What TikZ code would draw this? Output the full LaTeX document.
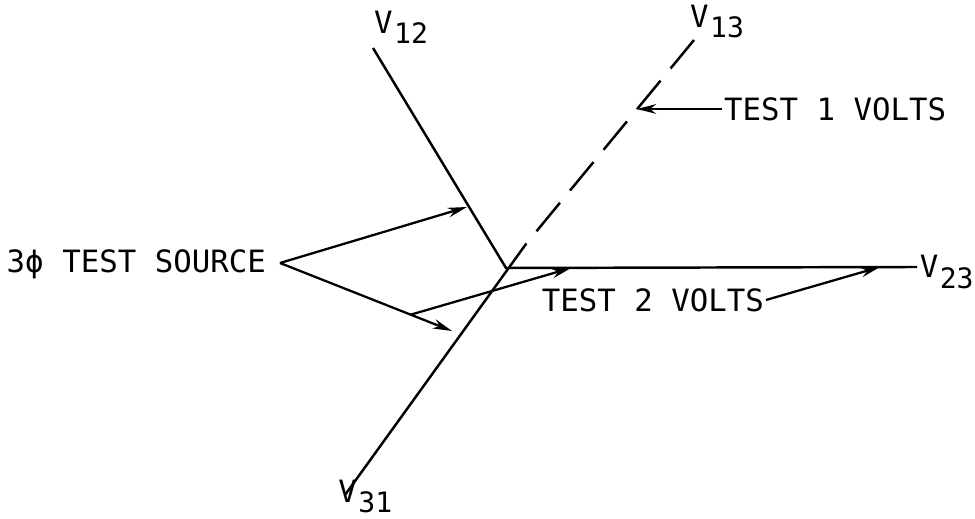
\documentclass[tikz,border=0pt]{standalone}
\usepackage{fontspec}
\setmonofont{DejaVu Sans Mono}
\usepackage{tikz}
\usetikzlibrary{arrows.meta,calc}

\tikzset{
  lbl/.style={font=\ttfamily\fontsize{17.5}{19}\selectfont, inner sep=1pt},
  vec/.style={line width=1.4pt},
  lead/.style={line width=1.3pt, -{Stealth[length=11pt,width=5.5pt]}},
}
\newcommand{\volt}[1]{V\hspace{0.05em}\raisebox{-0.6ex}{\fontsize{16}{18}\selectfont#1}}

\begin{document}
\begin{tikzpicture}[x=0.02cm,y=-0.02cm]
\useasboundingbox (0,0) rectangle (975,519);
% phasor lines
\coordinate (o) at (506,268);
\coordinate (e12) at (373,48);
\coordinate (e23) at (917,267);
\coordinate (e31) at (345,495);
\coordinate (m) at (526,244);
\coordinate (e13) at (694,40);
\draw[vec] (e12) -- (o) -- (e23);
\draw[vec] (e31) -- (m);
\draw[vec,dash pattern=on 21pt off 9pt] (e13) -- (m);
% phasor names
\node[lbl, anchor=south west] (v12) at (372,46) {\volt{12}};
\node[lbl, anchor=south west] (v13) at (688,40) {\volt{13}};
\node[lbl, anchor=east, inner sep=0pt] (v23) at (974,272) {\volt{23}};
\node[lbl, anchor=south west, inner sep=0pt] (v31) at (338,513) {\volt{31}};
% test source
\node[lbl, anchor=east] (src) at (268,264) {3ϕ TEST SOURCE};
\coordinate (ap) at (280,263);
\coordinate (t12) at (467,207);
\coordinate (t31) at (452,331);
\coordinate (t23) at (571,268);
\coordinate (br) at ($(ap)!0.76!(t31)$);
\draw[lead] (ap) -- (t12);
\draw[lead] (ap) -- (t31);
\draw[lead] (br) -- (t23);
% meter readings
\node[lbl, anchor=west] (test1) at (722,109) {TEST 1 VOLTS};
\coordinate (t13) at ($(e13)!0.34!(m)$);
\draw[lead] (test1.west) -- (test1.west -| t13);
\node[lbl, anchor=east] (test2) at (766,300) {TEST 2 VOLTS};
\coordinate (t2v) at (880,267);
\draw[lead] (test2.east) -- (t2v);
\end{tikzpicture}
\end{document}
